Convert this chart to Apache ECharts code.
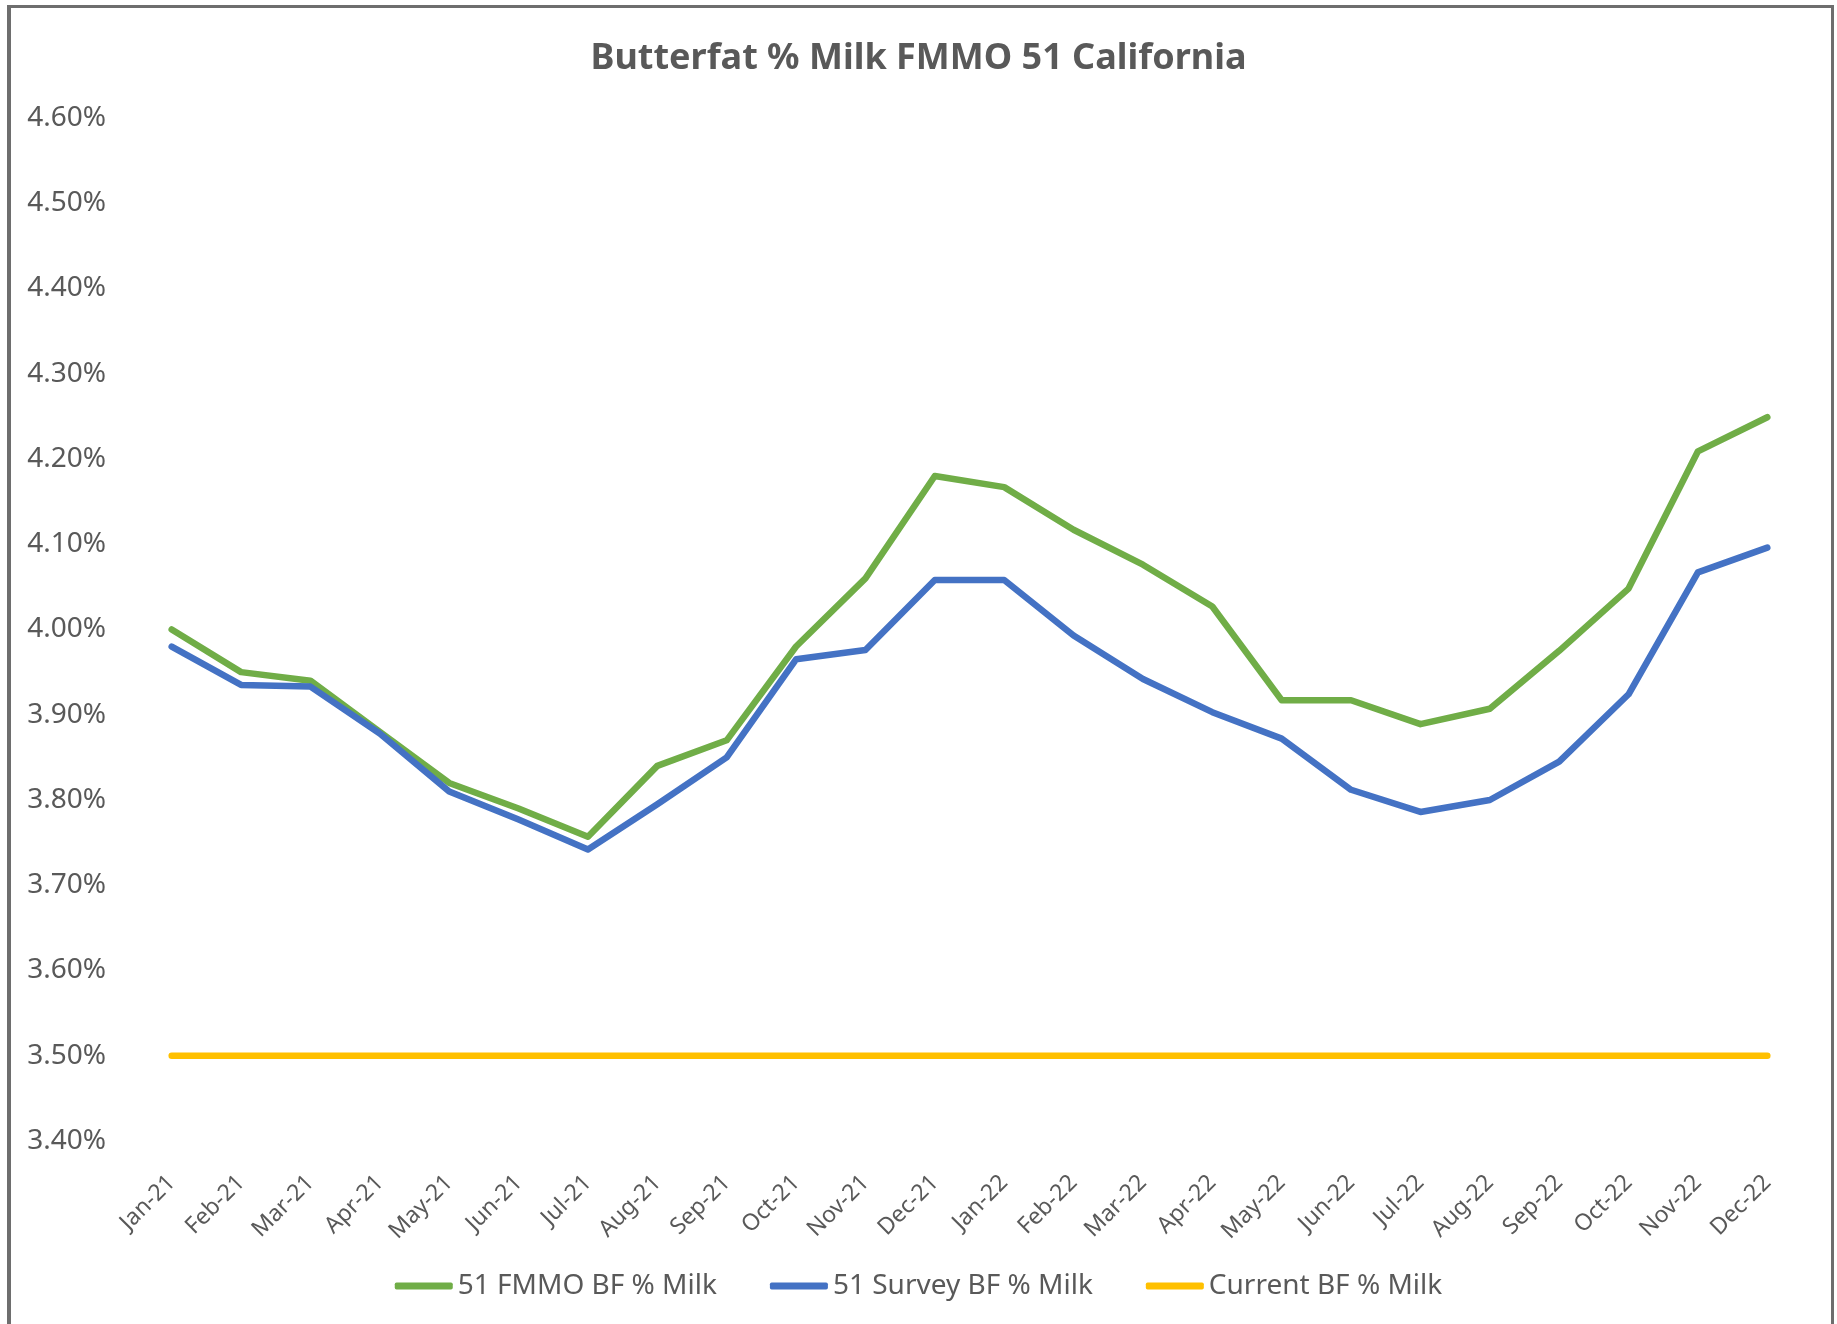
<!DOCTYPE html>
<html>
<head>
<meta charset="utf-8">
<title>Butterfat % Milk FMMO 51 California</title>
<script src="https://cdn.jsdelivr.net/npm/echarts@6/dist/echarts.min.js"></script>
<style>
  html, body {
    margin: 0;
    padding: 0;
    background: #fff;
    overflow: hidden;
  }
  #chart {
    position: absolute;
    left: 0;
    top: 0;
    width: 1837px;
    height: 1324px;
  }
  .frame {
    position: absolute;
    left: 7px;
    top: 5px;
    width: 1820px;
    height: 1340px;
    border: 3px solid #6e6e6e;
    border-left-width: 4px;
    pointer-events: none;
  }
</style>
</head>
<body>
<div id="chart"></div>
<div class="frame"></div>
<script>
const months = ['Jan-21', 'Feb-21', 'Mar-21', 'Apr-21', 'May-21', 'Jun-21', 'Jul-21', 'Aug-21', 'Sep-21', 'Oct-21', 'Nov-21', 'Dec-21',
  'Jan-22', 'Feb-22', 'Mar-22', 'Apr-22', 'May-22', 'Jun-22', 'Jul-22', 'Aug-22', 'Sep-22', 'Oct-22', 'Nov-22', 'Dec-22']

const fmmoBF = [4.00, 3.95, 3.94, 3.88, 3.82, 3.79, 3.757, 3.84, 3.87, 3.98, 4.06, 4.18,
  4.167, 4.117, 4.076, 4.027, 3.917, 3.917, 3.889, 3.907, 3.975, 4.048, 4.209, 4.249]

const surveyBF = [3.98, 3.935, 3.933, 3.878, 3.81, 3.777, 3.742, 3.795, 3.85, 3.965, 3.976, 4.058,
  4.058, 3.993, 3.942, 3.903, 3.872, 3.812, 3.786, 3.80, 3.845, 3.924, 4.067, 4.096]

const currentBF = [3.50, 3.50, 3.50, 3.50, 3.50, 3.50, 3.50, 3.50, 3.50, 3.50, 3.50, 3.50,
  3.50, 3.50, 3.50, 3.50, 3.50, 3.50, 3.50, 3.50, 3.50, 3.50, 3.50, 3.50]

const seriesNames = ['51 FMMO BF % Milk', '51 Survey BF % Milk', 'Current BF % Milk']

const textGray = '#595959'
const font = '"Noto Sans", "DejaVu Sans", sans-serif'

const myChart = echarts.init(document.getElementById('chart'))
myChart.setOption({
  animation: false,
  color: ['#70AD47', '#4472C4', '#FFC000'],
  title: {
    text: 'Butterfat % Milk FMMO 51 California',
    left: 'center',
    top: 36,
    textStyle: {
      fontFamily: font,
      fontSize: 36,
      fontWeight: 'bold',
      color: textGray
    }
  },
  legend: {
    data: seriesNames,
    bottom: 19,
    left: 'center',
    icon: 'roundRect',
    itemWidth: 58,
    itemHeight: 7,
    itemGap: 53,
    textStyle: {
      fontFamily: font,
      fontSize: 28,
      color: textGray
    }
  },
  grid: {
    left: 137,
    right: 35,
    top: 118,
    bottom: 183
  },
  xAxis: {
    type: 'category',
    data: months,
    boundaryGap: true,
    axisLine: { show: false },
    axisTick: { show: false },
    axisLabel: {
      rotate: 45,
      margin: 38,
      interval: 0,
      fontFamily: font,
      fontSize: 23,
      color: textGray
    }
  },
  yAxis: {
    type: 'value',
    min: 3.4,
    max: 4.6,
    interval: 0.1,
    axisLine: { show: false },
    axisTick: { show: false },
    splitLine: { show: false },
    axisLabel: {
      margin: 31,
      fontFamily: font,
      fontSize: 28,
      color: textGray,
      formatter: function (v) {
        return v.toFixed(2) + '%'
      }
    }
  },
  series: [
    {
      name: seriesNames[0],
      type: 'line',
      data: fmmoBF,
      showSymbol: false,
      lineStyle: { width: 6.5, cap: 'round', join: 'round' }
    },
    {
      name: seriesNames[1],
      type: 'line',
      data: surveyBF,
      showSymbol: false,
      lineStyle: { width: 6.5, cap: 'round', join: 'round' }
    },
    {
      name: seriesNames[2],
      type: 'line',
      data: currentBF,
      showSymbol: false,
      lineStyle: { width: 6.5, cap: 'round', join: 'round' }
    }
  ]
})
</script>
</body>
</html>
